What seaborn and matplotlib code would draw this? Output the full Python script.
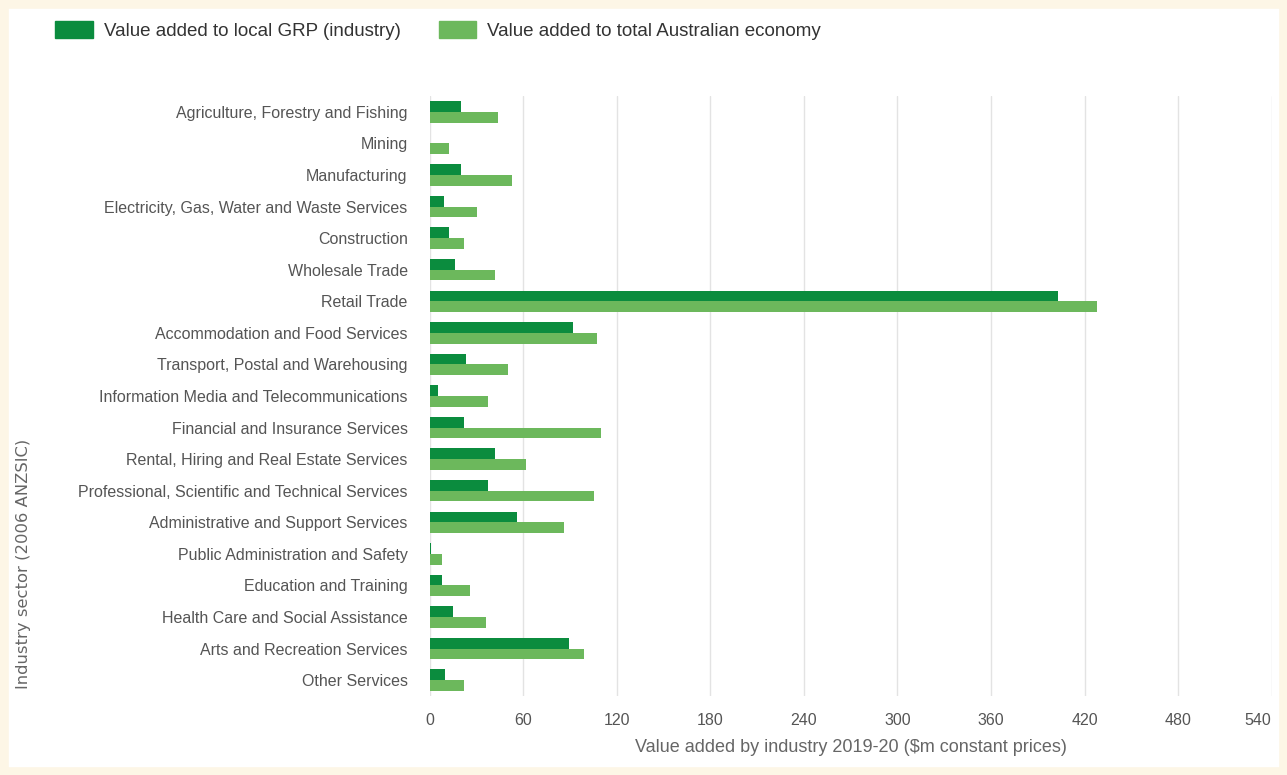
import pandas as pd
import numpy as np
import seaborn as sns
import matplotlib.pyplot as plt
from matplotlib.patches import Rectangle

industries = [
    "Agriculture, Forestry and Fishing", "Mining", "Manufacturing",
    "Electricity, Gas, Water and Waste Services", "Construction",
    "Wholesale Trade", "Retail Trade", "Accommodation and Food Services",
    "Transport, Postal and Warehousing",
    "Information Media and Telecommunications",
    "Financial and Insurance Services",
    "Rental, Hiring and Real Estate Services",
    "Professional, Scientific and Technical Services",
    "Administrative and Support Services",
    "Public Administration and Safety", "Education and Training",
    "Health Care and Social Assistance", "Arts and Recreation Services",
    "Other Services",
]
local_grp = [20, 0, 20, 9, 12, 16, 403, 92, 23, 5, 22, 42, 37, 56, 1, 8, 15, 89, 10]
total_aus = [44, 12, 53, 30, 22, 42, 428, 107, 50, 37, 110, 62, 105, 86, 8, 26, 36, 99, 22]
series = ["Value added to local GRP (industry)", "Value added to total Australian economy"]
xticks = [0, 60, 120, 180, 240, 300, 360, 420, 480, 540]

df = pd.DataFrame({
    "industry": industries * 2,
    "value": local_grp + total_aus,
    "series": [series[0]] * len(industries) + [series[1]] * len(industries),
})

sns.set_style("white")
plt.rcParams['font.family'] = ['Liberation Sans', 'DejaVu Sans']

fig = plt.figure(figsize=(12.87, 7.75), dpi=100)
fig.patch.set_facecolor("white")
fig.patches.append(Rectangle((0, 0), 1, 1, transform=fig.transFigure, fill=False,
                             edgecolor="#fdf6e6", linewidth=12, zorder=0))
ax = fig.add_axes([0.334, 0.102, 0.654, 0.774])

palette = {series[0]: "#0b8c3e", series[1]: "#6cb85c"}
sns.barplot(data=df, y="industry", x="value", hue="series", palette=palette,
            order=industries, hue_order=series, width=0.68, ax=ax,
            saturation=1, legend=False, linewidth=0)

ax.set_xlim(0, 540)
ax.set_xticks(xticks)
ax.set_xticklabels([str(t) for t in xticks])
ax.get_xticklabels()[-1].set_ha("right")
ax.grid(axis="x", color="#e3e3e3", linewidth=1)
ax.set_axisbelow(True)
for s in ax.spines.values():
    s.set_visible(False)
ax.tick_params(axis="both", length=0, colors="#555555")
ax.tick_params(axis="y", pad=16, labelsize=11.5)
ax.tick_params(axis="x", pad=12, labelsize=11.5)
ax.set_ylabel("")
ax.set_xlabel("Value added by industry 2019-20 ($m constant prices)",
              fontsize=13, color="#666666", labelpad=8)

fig.text(0.018, 0.272, "Industry sector (2006 ANZSIC)", rotation=90,
         ha="center", va="center", fontsize=11.8, color="#666666",
         family="DejaVu Sans")

handles = [Rectangle((0, 0), 1, 1, color=palette[s]) for s in series]
fig.legend(handles, series, loc="upper left", bbox_to_anchor=(0.030, 0.995),
           ncol=2, frameon=False, fontsize=13.5, handlelength=2.0,
           handleheight=1.0, columnspacing=2.0, handletextpad=0.6,
           labelcolor="#333333")

fig.savefig("out.png", dpi=100, facecolor=fig.get_facecolor())
